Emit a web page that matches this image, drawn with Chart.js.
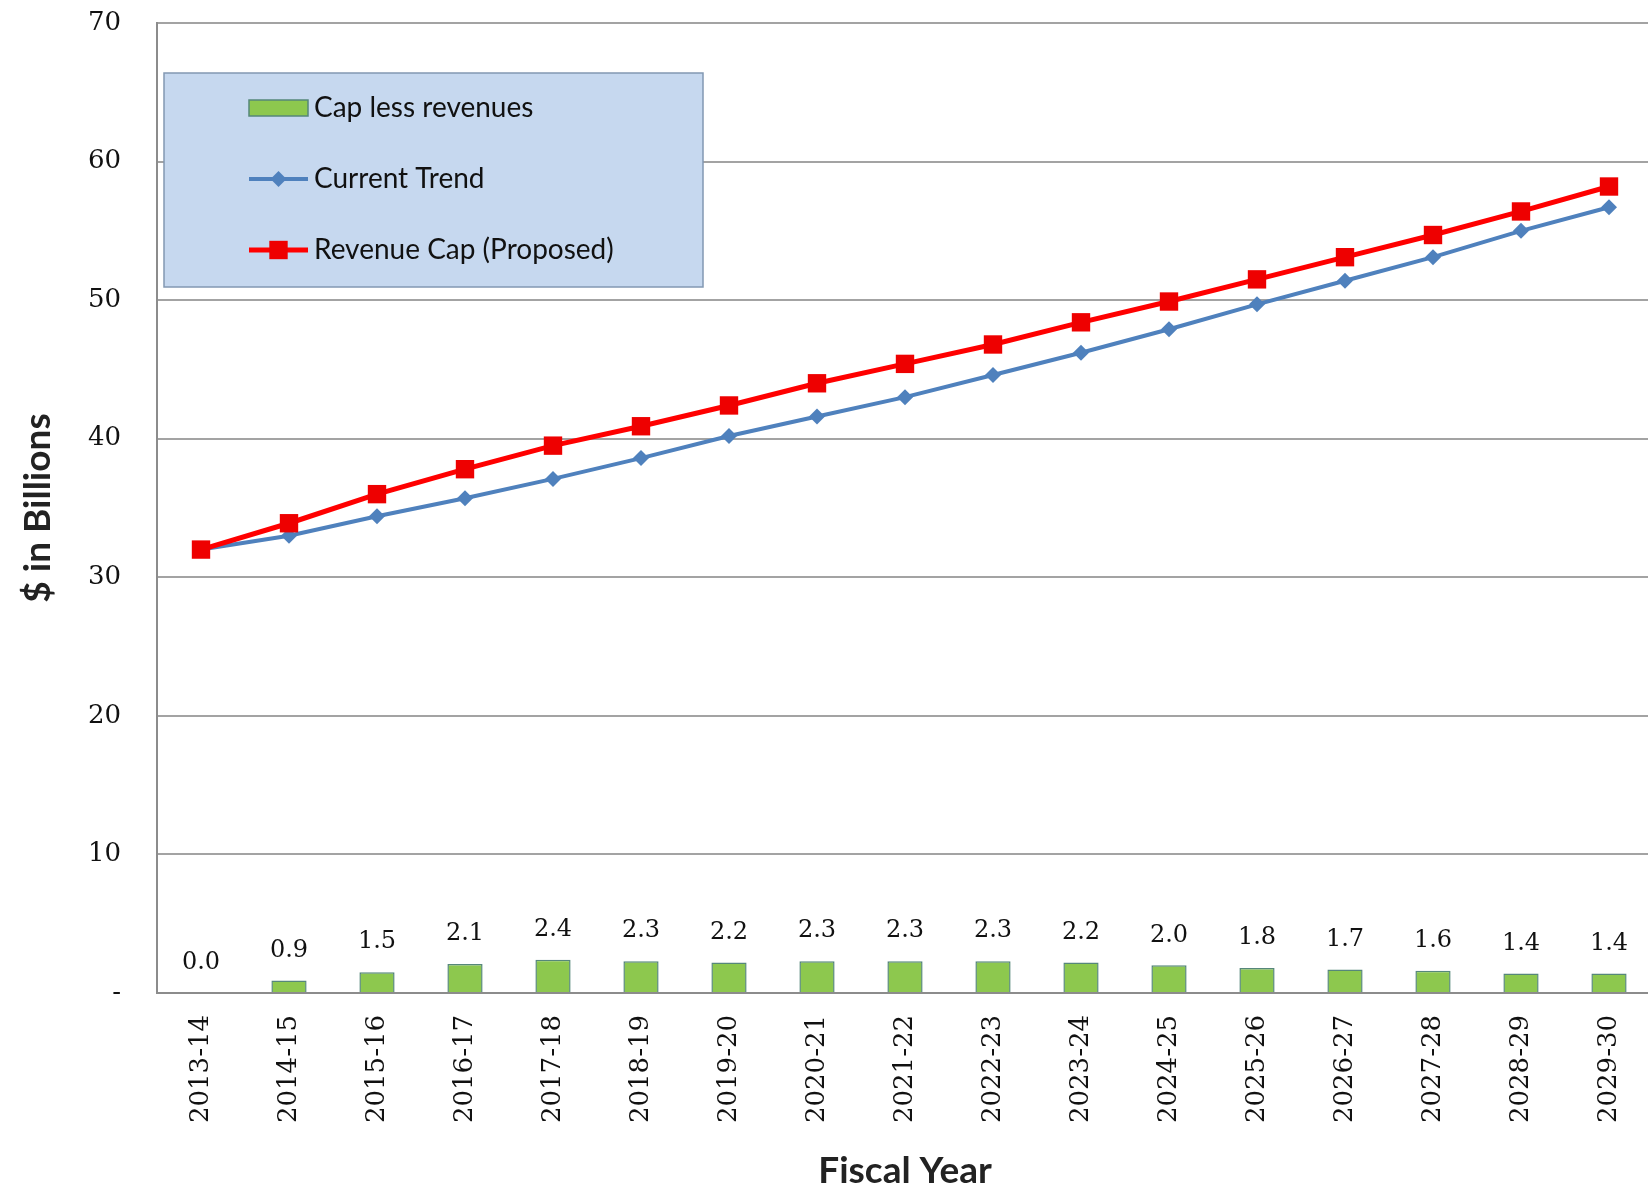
<!DOCTYPE html>
<html>
<head>
<meta charset="utf-8">
<title>Revenue Cap vs Current Trend</title>
<script src="https://cdn.jsdelivr.net/npm/chart.js@4/dist/chart.umd.min.js"></script>
<style>
  html, body { margin: 0; padding: 0; background: #fff; overflow: hidden; }
  .chart-wrap { position: relative; width: 1666px; height: 1193px; }
</style>
</head>
<body>
<div class="chart-wrap"><canvas id="capChart"></canvas></div>
<script>
// --- DATA ---
const fiscalYears = ['2013-14', '2014-15', '2015-16', '2016-17', '2017-18', '2018-19', '2019-20', '2020-21',
    '2021-22', '2022-23', '2023-24', '2024-25', '2025-26', '2026-27', '2027-28', '2028-29', '2029-30'];
const capLessRevenues = [0.0, 0.9, 1.5, 2.1, 2.4, 2.3, 2.2, 2.3, 2.3, 2.3, 2.2, 2.0, 1.8, 1.7, 1.6, 1.4, 1.4];
const currentTrend = [32.0, 33.0, 34.4, 35.7, 37.1, 38.6, 40.2, 41.6, 43.0, 44.6, 46.2, 47.9, 49.7, 51.4, 53.1, 55.0, 56.7];
const revenueCap = [32.0, 33.9, 36.0, 37.8, 39.5, 40.9, 42.4, 44.0, 45.4, 46.8, 48.4, 49.9, 51.5, 53.1, 54.7, 56.4, 58.2];
const yTicks = [0, 10, 20, 30, 40, 50, 60, 70];

const serif = '"DejaVu Serif", "Liberation Serif", serif';
const sans = 'Lato, "Open Sans", "Noto Sans", sans-serif';

// value labels above the green bars
const barLabels = {
    id: 'barLabels',
    afterDatasetsDraw(chart) {
        const { ctx } = chart;
        const meta = chart.getDatasetMeta(0);
        ctx.save();
        ctx.font = '24px ' + serif;
        ctx.fillStyle = '#111';
        ctx.textAlign = 'center';
        ctx.textBaseline = 'middle';
        meta.data.forEach((bar, i) => {
            ctx.fillText(capLessRevenues[i].toFixed(1), bar.x, bar.y - 30);
        });
        ctx.restore();
    }
};

// boxed legend in the upper left of the plot
const boxLegend = {
    id: 'boxLegend',
    afterDraw(chart) {
        const { ctx } = chart;
        const ds = chart.data.datasets;
        const box = { x: 164, y: 73, w: 539, h: 214 };
        ctx.save();
        ctx.fillStyle = '#c6d8ef';
        ctx.strokeStyle = '#8298b3';
        ctx.lineWidth = 1.5;
        ctx.fillRect(box.x, box.y, box.w, box.h);
        ctx.strokeRect(box.x, box.y, box.w, box.h);

        const x0 = 249, x1 = 308, rows = [108, 179, 250];
        ctx.font = '28px ' + sans;
        ctx.textBaseline = 'middle';
        ds.forEach((d, r) => {
            const y = rows[r];
            if (d.type === 'bar') {
                ctx.fillStyle = d.backgroundColor;
                ctx.strokeStyle = d.borderColor;
                ctx.lineWidth = 1.5;
                ctx.fillRect(x0, y - 8, x1 - x0, 16);
                ctx.strokeRect(x0, y - 8, x1 - x0, 16);
            } else {
                ctx.strokeStyle = d.borderColor;
                ctx.lineWidth = d.borderWidth;
                ctx.beginPath();
                ctx.moveTo(x0, y);
                ctx.lineTo(x1, y);
                ctx.stroke();
                ctx.fillStyle = d.pointBackgroundColor;
                Chart.helpers.drawPoint(ctx, {
                    pointStyle: d.pointStyle,
                    radius: d.pointRadius,
                    borderWidth: 0
                }, (x0 + x1) / 2, y);
            }
            ctx.fillStyle = '#111';
            ctx.textAlign = 'left';
            ctx.fillText(d.label, 314, y);
        });
        ctx.restore();
    }
};

document.addEventListener('DOMContentLoaded', () => {
    const ctx = document.getElementById('capChart');
    new Chart(ctx, {
        data: {
            labels: fiscalYears,
            datasets: [
                {
                    type: 'bar',
                    label: 'Cap less revenues',
                    data: capLessRevenues,
                    backgroundColor: '#8dc84e',
                    borderColor: '#56877a',
                    borderWidth: 1.5,
                    barPercentage: 0.4,
                    categoryPercentage: 1,
                    order: 3
                },
                {
                    type: 'line',
                    label: 'Current Trend',
                    data: currentTrend,
                    borderColor: '#4f81bd',
                    borderWidth: 4,
                    pointStyle: 'rectRot',
                    pointRadius: 8,
                    pointBackgroundColor: '#4f81bd',
                    pointBorderWidth: 0,
                    order: 2
                },
                {
                    type: 'line',
                    label: 'Revenue Cap (Proposed)',
                    data: revenueCap,
                    borderColor: '#ff0000',
                    borderWidth: 5,
                    pointStyle: 'rect',
                    pointRadius: 13,
                    pointBackgroundColor: '#ee0000',
                    pointBorderWidth: 0,
                    order: 1
                }
            ]
        },
        options: {
            responsive: true,
            maintainAspectRatio: false,
            animation: false,
            layout: { padding: { top: 23, right: 4, bottom: 0, left: 0 } },
            plugins: {
                legend: { display: false },
                tooltip: { enabled: false }
            },
            scales: {
                x: {
                    offset: true,
                    grid: { display: false, drawTicks: false },
                    border: { color: '#8c8c8c', width: 2 },
                    ticks: {
                        color: '#111',
                        font: { family: serif, size: 26 },
                        maxRotation: 90,
                        minRotation: 90,
                        padding: 22
                    },
                    title: {
                        display: true,
                        text: 'Fiscal Year',
                        color: '#222',
                        font: { family: sans, size: 37, weight: 'bold' },
                        padding: { top: 0, bottom: 0 }
                    },
                    afterFit(scale) { scale.height = 200; }
                },
                y: {
                    min: 0,
                    max: 70,
                    afterBuildTicks(scale) { scale.ticks = yTicks.map(v => ({ value: v })); },
                    grid: { color: '#a3a3a3', lineWidth: 2, drawTicks: true, tickLength: 36, tickColor: 'rgba(0,0,0,0)' },
                    border: { color: '#8c8c8c', width: 2 },
                    ticks: {
                        color: '#111',
                        font: { family: serif, size: 26 },
                        padding: 0,
                        callback: v => (v === 0 ? '-' : v)
                    },
                    title: {
                        display: true,
                        text: '$ in Billions',
                        color: '#222',
                        font: { family: sans, size: 37, weight: 'bold' },
                        padding: { top: 16, bottom: 0 }
                    },
                    afterFit(scale) { scale.width = 157; }
                }
            }
        },
        plugins: [barLabels, boxLegend]
    });
});
</script>
</body>
</html>
